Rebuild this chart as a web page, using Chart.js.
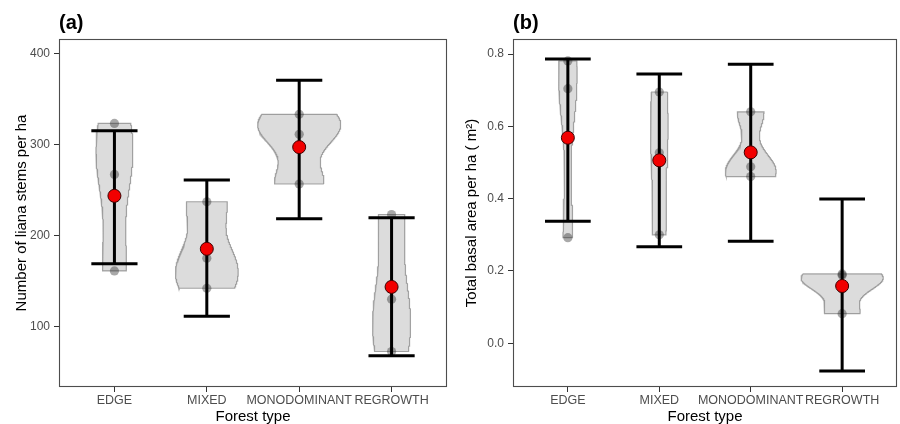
<!DOCTYPE html>
<html><head><meta charset="utf-8">
<script src="https://cdn.jsdelivr.net/npm/chart.js@4/dist/chart.umd.min.js"></script>
<style>
html,body{margin:0;padding:0;background:#fff;}
#wrap{position:relative;width:900px;height:424px;overflow:hidden;}
.box{position:absolute;top:0;width:450px;height:424px;}
</style></head><body>
<div id="wrap">
<div class="box" style="left:0"><canvas id="ca" width="450" height="424"></canvas></div>
<div class="box" style="left:450px"><canvas id="cb" width="450" height="424"></canvas></div>
</div>
<script>
// ---------- data ----------
const categories = ["EDGE", "MIXED", "MONODOMINANT", "REGROWTH"];

// panel (a): number of liana stems per ha
const stemsPoints = [[323, 267, 161], [237, 175, 142], [333, 311, 256.5], [223, 130, 72.6]];
const stemsMean  = [243.5, 185.3, 297.0, 143.5];
const stemsLower = [168.8, 111.3, 218.2, 68.0];
const stemsUpper = [315.0, 260.8, 370.3, 219.3];
const stemsTicks = [100, 200, 300, 400];
const stemsRange = [33.6, 415.7];

// panel (b): total basal area per ha
const basalPoints = [[0.781, 0.704, 0.292], [0.695, 0.527, 0.300], [0.640, 0.488, 0.461], [0.192, 0.188, 0.150, 0.082]];
const basalMean  = [0.5685, 0.506, 0.528, 0.1585];
const basalLower = [0.3375, 0.267, 0.282, -0.0766];
const basalUpper = [0.786, 0.745, 0.772, 0.399];
const basalTicks = [0.0, 0.2, 0.4, 0.6, 0.8];
const basalRange = [-0.1208, 0.8415];

// ---------- helpers ----------
Chart.defaults.font.family = "'Liberation Sans', Arial, sans-serif";

function quantile7(s, p) {
  const h = (s.length - 1) * p, lo = Math.floor(h);
  const hi = Math.min(lo + 1, s.length - 1);
  return s[lo] + (h - lo) * (s[hi] - s[lo]);
}
function bwNrd0(x) {
  const n = x.length;
  const m = x.reduce((a, b) => a + b, 0) / n;
  const sd = Math.sqrt(x.reduce((a, b) => a + (b - m) ** 2, 0) / (n - 1));
  const s = [...x].sort((a, b) => a - b);
  const iqr = quantile7(s, 0.75) - quantile7(s, 0.25);
  let lo = Math.min(sd, iqr / 1.34);
  if (!(lo > 0)) lo = sd || Math.abs(s[0]) || 1;
  return 0.9 * lo * Math.pow(n, -0.2);
}
function kde(x, at, bw) {
  let s = 0;
  for (const xi of x) { const z = (at - xi) / bw; s += Math.exp(-0.5 * z * z); }
  return s / (x.length * bw * Math.sqrt(2 * Math.PI));
}
// trimmed violins, scale = "area" (all groups share the max density), width 0.9
function violinOutlines(groups, width = 0.9, n = 256) {
  const curves = groups.map(g => {
    const bw = bwNrd0(g);
    const lo = Math.min(...g), hi = Math.max(...g);
    const ys = [], ds = [];
    for (let k = 0; k < n; k++) {
      const y = lo + (hi - lo) * k / (n - 1);
      ys.push(y); ds.push(kde(g, y, bw));
    }
    return { ys, ds };
  });
  const maxD = Math.max(...curves.flatMap(c => c.ds));
  return curves.map((c, i) => {
    const cx = i + 1;
    const right = c.ys.map((y, k) => ({ x: cx + c.ds[k] / maxD * width / 2, y }));
    const left = c.ys.map((y, k) => ({ x: cx - c.ds[k] / maxD * width / 2, y })).reverse();
    const poly = [...right, ...left];
    poly.push(poly[0]);
    return poly;
  });
}
function errorBarData(lower, upper, capWidth) {
  const d = [];
  lower.forEach((lo, i) => {
    const cx = i + 1, hi = upper[i];
    d.push({ x: cx, y: lo }, { x: cx, y: hi }, { x: cx, y: null });
    d.push({ x: cx - capWidth / 2, y: hi }, { x: cx + capWidth / 2, y: hi }, { x: cx, y: null });
    d.push({ x: cx - capWidth / 2, y: lo }, { x: cx + capWidth / 2, y: lo }, { x: cx, y: null });
  });
  return d;
}

const framePlugin = {
  id: 'frame',
  afterDatasetsDraw(chart, args, opts) {
    const { ctx, chartArea: a } = chart;
    ctx.save();
    ctx.strokeStyle = '#4d4d4d';
    ctx.lineWidth = 1.1;
    ctx.strokeRect(a.left + 0.5, a.top + 0.5, a.right - a.left - 1, a.bottom - a.top - 1);
    ctx.fillStyle = '#000';
    ctx.font = "bold 20px 'Liberation Sans', Arial, sans-serif";
    ctx.textBaseline = 'alphabetic';
    ctx.textAlign = 'left';
    ctx.fillText(opts.text, a.left, 28.5);
    ctx.restore();
  }
};

function makePanel(id, label, yTitle, points, mean, lower, upper, ticks, range, fmt, yWidth) {
  const violins = violinOutlines(points);
  const datasets = [];
  // red means (top)
  datasets.push({
    data: mean.map((v, i) => ({ x: i + 1, y: v })),
    pointRadius: 6.5, pointBackgroundColor: '#f20000', pointBorderColor: '#3a0000',
    pointBorderWidth: 1, showLine: false, order: 1
  });
  // error bars
  datasets.push({
    data: errorBarData(lower, upper, 0.5),
    showLine: true, spanGaps: false, borderColor: '#000', borderWidth: 3,
    pointRadius: 0, tension: 0, fill: false, order: 2
  });
  // raw points
  datasets.push({
    data: points.flatMap((g, i) => g.map(v => ({ x: i + 1, y: v }))),
    pointRadius: 4.6, pointBackgroundColor: 'rgba(40,40,40,0.4)', pointBorderWidth: 0,
    showLine: false, order: 3
  });
  // violins
  violins.forEach((poly, i) => datasets.push({
    data: poly, showLine: true, fill: 'shape', tension: 0,
    backgroundColor: 'rgba(185,185,185,0.5)', borderColor: 'rgba(110,110,110,0.6)',
    borderWidth: 1.2, pointRadius: 0, order: 10 + i
  }));

  return new Chart(document.getElementById(id), {
    type: 'scatter',
    data: { datasets },
    options: {
      responsive: false, animation: false, events: [],
      layout: { autoPadding: false, padding: { top: 39, right: 3, bottom: 0, left: 0 } },
      plugins: { legend: { display: false }, tooltip: { enabled: false }, frame: { text: label } },
      scales: {
        x: {
          type: 'linear', min: 0.4, max: 4.6,
          afterBuildTicks: ax => { ax.ticks = categories.map((c, i) => ({ value: i + 1 })); },
          afterFit: s => { s.height = 37; s.paddingLeft = 0; s.paddingRight = 0; },
          ticks: {
            autoSkip: false, maxRotation: 0, minRotation: 0, padding: 1,
            color: '#4d4d4d', font: { size: 12.5 },
            callback: (v, i) => categories[i]
          },
          grid: { drawOnChartArea: false, tickLength: 5, tickColor: '#333', tickWidth: 1 },
          border: { display: false },
          title: { display: true, text: 'Forest type', color: '#000', font: { size: 15, lineHeight: 1.0 }, padding: { top: 0, bottom: 0 } }
        },
        y: {
          type: 'linear', min: range[0], max: range[1],
          afterBuildTicks: ax => { ax.ticks = ticks.map(v => ({ value: v })); },
          afterFit: s => { s.width = yWidth; s.paddingTop = 0; s.paddingBottom = 0; },
          ticks: { padding: 4, color: '#4d4d4d', font: { size: 12 }, callback: v => fmt(v) },
          grid: { drawOnChartArea: false, tickLength: 5, tickColor: '#333', tickWidth: 1 },
          border: { display: false },
          title: { display: true, text: yTitle, color: '#000', font: { size: 15 }, padding: { top: 13, bottom: 0 } }
        }
      }
    },
    plugins: [framePlugin]
  });
}

makePanel('ca', '(a)', 'Number of liana stems per ha', stemsPoints, stemsMean, stemsLower, stemsUpper,
  stemsTicks, stemsRange, v => String(Math.round(v)), 59);
makePanel('cb', '(b)', 'Total basal area per ha ( m\u00B2)', basalPoints, basalMean, basalLower, basalUpper,
  basalTicks, basalRange, v => v.toFixed(1), 63);
</script>
</body></html>
